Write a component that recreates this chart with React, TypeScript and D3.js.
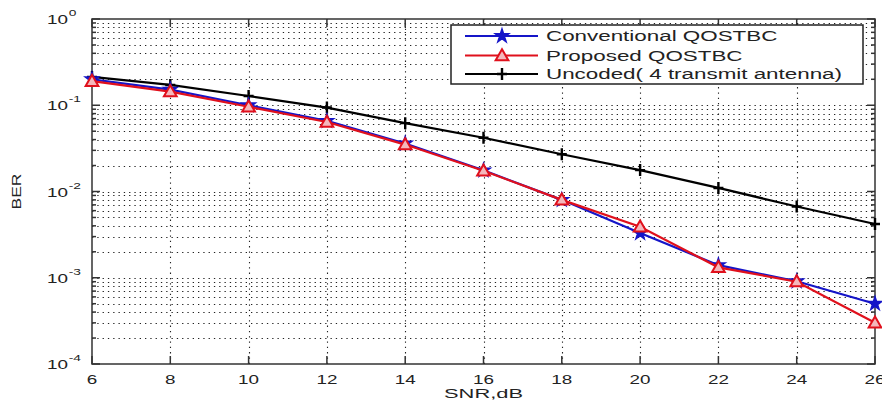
import * as d3 from 'd3'
import { useEffect, useRef } from 'react'

const snr = [6, 8, 10, 12, 14, 16, 18, 20, 22, 24, 26]
const conventional = [0.2, 0.152, 0.1, 0.066, 0.036, 0.0176, 0.008, 0.0033, 0.0014, 0.00091, 0.0005]
const proposed = [0.19, 0.144, 0.096, 0.064, 0.035, 0.0174, 0.008, 0.0039, 0.00132, 0.0009, 0.0003]
const uncoded = [0.213, 0.172, 0.128, 0.094, 0.062, 0.042, 0.027, 0.0177, 0.011, 0.0067, 0.0042]
const seriesNames = ['Conventional QOSTBC', 'Proposed QOSTBC', 'Uncoded( 4 transmit antenna)']
const xTicks = [6, 8, 10, 12, 14, 16, 18, 20, 22, 24, 26]
const yDecades = [0, -1, -2, -3, -4]

const App = () => {
  const ref = useRef<SVGSVGElement>(null)

  useEffect(() => {
    const width = 882
    const height = 403
    const margin = { top: 19, right: 7, bottom: 39, left: 92 }
    const svg = d3.select(ref.current)
    svg.selectAll('*').remove()
    svg.attr('width', width).attr('height', height)

    const x = d3.scaleLinear().domain([6, 26]).range([margin.left, width - margin.right])
    const y = d3.scaleLog().domain([1e-4, 1]).range([height - margin.bottom, margin.top])
    const x0 = x(6), x1 = x(26), y0 = y(1e-4), y1 = y(1)
    const font = '"Liberation Sans", Arial, sans-serif'

    svg.append('rect').attr('width', width).attr('height', height).attr('fill', '#fff')

    // grid
    const minor: number[] = []
    for (let e = -4; e < 0; e++) for (let k = 1; k < 10; k++) minor.push(k * Math.pow(10, e))
    minor.push(1)
    const grid = svg.append('g').attr('stroke', '#222').attr('stroke-width', 1.1).attr('stroke-dasharray', '1.3,4')
    grid.selectAll('.gy').data(minor.filter((v) => v > 1e-4 && v < 1)).join('line')
      .attr('x1', x0).attr('x2', x1).attr('y1', (d) => Math.round(y(d)) + 0.5).attr('y2', (d) => Math.round(y(d)) + 0.5)
    grid.selectAll('.gx').data(xTicks.slice(1, -1)).join('line')
      .attr('y1', y0).attr('y2', y1).attr('x1', (d) => Math.round(x(d)) + 0.5).attr('x2', (d) => Math.round(x(d)) + 0.5)

    // axes box + ticks
    const ax = svg.append('g').attr('stroke', '#333').attr('stroke-width', 1.5).attr('fill', 'none')
    ax.append('rect').attr('x', x0).attr('y', y1).attr('width', x1 - x0).attr('height', y0 - y1)
    xTicks.forEach((t) => {
      ax.append('line').attr('x1', x(t)).attr('x2', x(t)).attr('y1', y0).attr('y2', y0 - 8)
      ax.append('line').attr('x1', x(t)).attr('x2', x(t)).attr('y1', y1).attr('y2', y1 + 8)
    })
    minor.forEach((v) => {
      const major = Math.abs(Math.log10(v) - Math.round(Math.log10(v))) < 1e-9
      const len = major ? 8 : 4
      ax.append('line').attr('x1', x0).attr('x2', x0 + len).attr('y1', y(v)).attr('y2', y(v))
      ax.append('line').attr('x1', x1).attr('x2', x1 - len).attr('y1', y(v)).attr('y2', y(v))
    })

    // tick labels
    xTicks.forEach((t) => {
      svg.append('text')
        .attr('transform', `translate(${x(t)},${y0 + 20}) scale(1.45,1)`)
        .attr('text-anchor', 'middle').attr('font-family', font).attr('font-size', 13).attr('fill', '#222')
        .text(t)
    })
    yDecades.forEach((e) => {
      const g = svg.append('g').attr('transform', `translate(${x0 - 24},${y(Math.pow(10, e)) + 5}) scale(1.45,1)`)
      g.append('text').attr('text-anchor', 'end').attr('font-family', font).attr('font-size', 13).attr('fill', '#222').text('10')
      g.append('text').attr('x', 0.5).attr('y', -8).attr('font-family', font).attr('font-size', 9.5).attr('fill', '#222').text(String(e))
    })

    // axis labels
    svg.append('text')
      .attr('transform', `translate(${(x0 + x1) / 2},${height - 5}) scale(1.75,1)`)
      .attr('text-anchor', 'middle').attr('font-family', font).attr('font-size', 12.5).attr('fill', '#222')
      .text('SNR,dB')
    svg.append('text')
      .attr('transform', `translate(21,${(y0 + y1) / 2}) rotate(-90) scale(1.35,1)`)
      .attr('text-anchor', 'middle').attr('font-family', font).attr('font-size', 13).attr('fill', '#222')
      .text('BER')

    // series
    const colors = ['#1515c8', '#e0101c', '#000']
    const data = [conventional, proposed, uncoded]
    const line = d3.line<number>().x((d, i) => x(snr[i])).y((d) => y(d))
    const plot = svg.append('g')
    const drawMarker = (g: d3.Selection<SVGGElement, unknown, null, undefined>, k: number, cx: number, cy: number) => {
      if (k === 0) {
        g.append('path').attr('d', d3.symbol(d3.symbolStar, 55)()).attr('transform', `translate(${cx},${cy})`)
          .attr('fill', colors[0]).attr('stroke', colors[0]).attr('stroke-width', 1.5)
      } else if (k === 1) {
        g.append('path').attr('d', d3.symbol(d3.symbolTriangle, 70)()).attr('transform', `translate(${cx},${cy + 1})`)
          .attr('fill', '#f4b8bc').attr('stroke', colors[1]).attr('stroke-width', 2)
      } else {
        g.append('path').attr('d', `M${cx - 5},${cy}H${cx + 5}M${cx},${cy - 6}V${cy + 6}`)
          .attr('stroke', colors[2]).attr('stroke-width', 2.4)
      }
    }
    ;[2, 0, 1].forEach((k) => {
      plot.append('path').datum(data[k]).attr('d', line).attr('fill', 'none')
        .attr('stroke', colors[k]).attr('stroke-width', 2.2)
      const mg = plot.append('g')
      data[k].forEach((v, i) => drawMarker(mg, k, x(snr[i]), y(v)))
    })

    // legend
    const lx = 451, ly = 25, lw = 412, lh = 59
    svg.append('rect').attr('x', lx).attr('y', ly).attr('width', lw).attr('height', lh)
      .attr('fill', '#fff').attr('stroke', '#222').attr('stroke-width', 1.5)
    const rows = [36, 55.5, 74]
    seriesNames.forEach((name, k) => {
      const g = svg.append('g')
      g.append('line').attr('x1', 465).attr('x2', 538).attr('y1', rows[k]).attr('y2', rows[k])
        .attr('stroke', colors[k]).attr('stroke-width', 2.2)
      drawMarker(g, k, 502, rows[k])
      svg.append('text')
        .attr('transform', `translate(546,${rows[k] + 5}) scale(1.6,1)`)
        .attr('font-family', font).attr('font-size', 14).attr('fill', '#222')
        .text(name)
    })
  }, [])

  return (
    <div style={{ position: 'absolute', left: 0, top: 0 }}>
      <svg ref={ref} style={{ display: 'block' }}></svg>
    </div>
  )
}

export default App
